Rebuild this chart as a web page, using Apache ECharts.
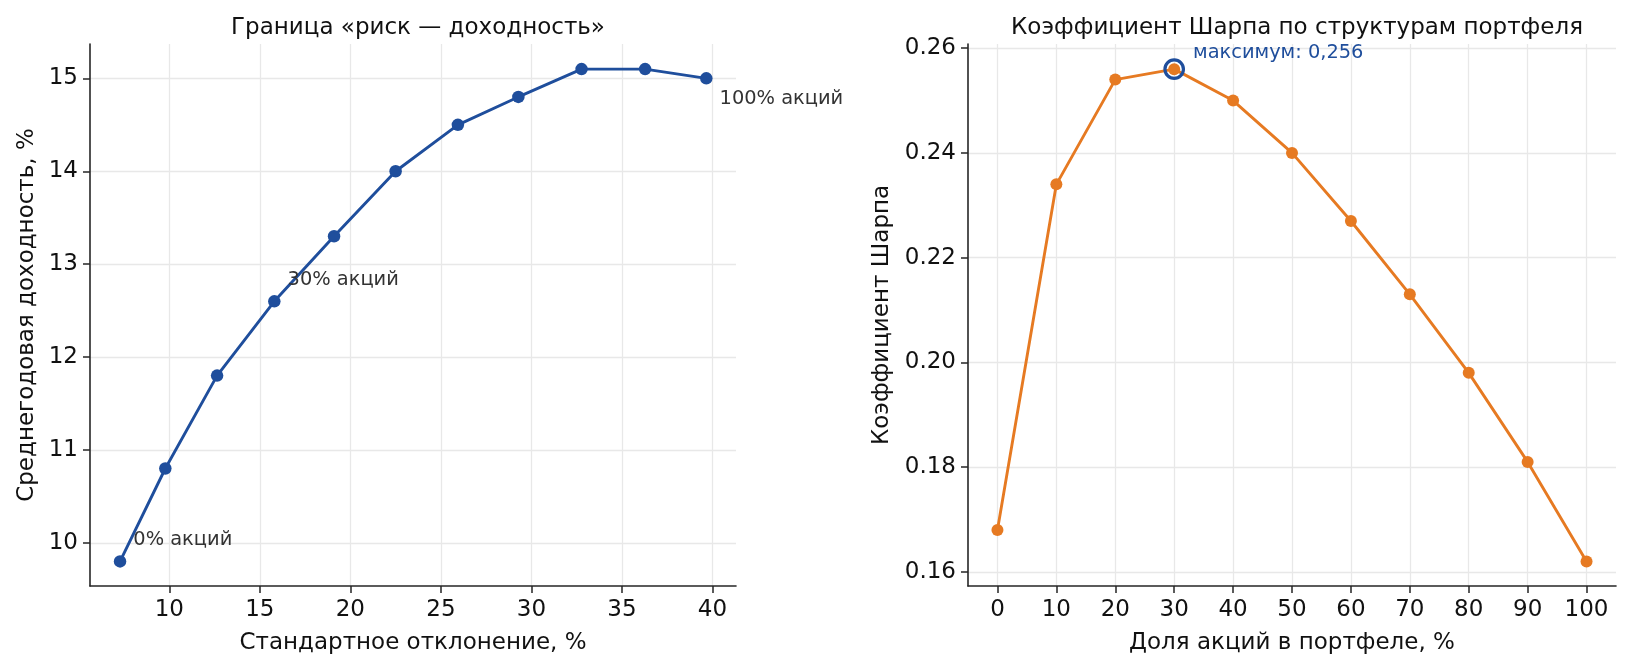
<!DOCTYPE html>
<html>
<head>
<meta charset="utf-8">
<script src="https://cdn.jsdelivr.net/npm/echarts@6/dist/echarts.min.js"></script>
<style>
    html, body { margin: 0; padding: 0; background: #fff; }
    #chart { width: 1630px; height: 670px; }
</style>
</head>
<body>
<div id="chart"></div>
<script>
// portfolios: share of equities, %
const equityShare = [0, 10, 20, 30, 40, 50, 60, 70, 80, 90, 100]
const riskStd = [7.28, 9.78, 12.64, 15.8, 19.1, 22.5, 25.94, 29.28, 32.77, 36.28, 39.66]
const meanReturn = [9.8, 10.8, 11.8, 12.6, 13.3, 14.0, 14.5, 14.8, 15.1, 15.1, 15.0]
const sharpe = [0.168, 0.234, 0.254, 0.256, 0.250, 0.240, 0.227, 0.213, 0.198, 0.181, 0.162]

// tick labels
const riskTicks = [10, 15, 20, 25, 30, 35, 40]
const returnTicks = [10, 11, 12, 13, 14, 15]
const shareTicks = [0, 10, 20, 30, 40, 50, 60, 70, 80, 90, 100]
const sharpeTicks = [0.16, 0.18, 0.20, 0.22, 0.24, 0.26]

// annotated points on the frontier
const frontierNotes = { 0: '0% акций', 3: '30% акций', 10: '100% акций' }

const BLUE = '#1f4e9c'
const ORANGE = '#e67a22'
const INK = '#262626'
const FONT = 'DejaVu Sans'

const axisCommon = {
    axisLine: { show: true, onZero: false, lineStyle: { color: INK, width: 1.6 } },
    axisTick: { show: true, inside: false, length: 7, lineStyle: { color: INK, width: 1.5 } },
    splitLine: { show: true, lineStyle: { color: '#e8e8e8', width: 1.3 } },
    nameLocation: 'middle',
    nameTextStyle: { fontFamily: FONT, fontSize: 23, color: '#111' },
}

const xAxis = (idx, min, max, ticks, name) => ({
    ...axisCommon,
    type: 'value',
    gridIndex: idx,
    min, max,
    name,
    nameGap: 46,
    axisTick: { ...axisCommon.axisTick, customValues: ticks },
    axisLabel: { customValues: ticks, margin: 13, fontFamily: FONT, fontSize: 23, color: '#111' },
})
const yAxis = (idx, min, max, ticks, name, gap, fmt) => ({
    ...axisCommon,
    type: 'value',
    gridIndex: idx,
    min, max,
    name,
    nameGap: gap,
    axisTick: { ...axisCommon.axisTick, customValues: ticks },
    axisLabel: { customValues: ticks, margin: 12, fontFamily: FONT, fontSize: 23, color: '#111', formatter: fmt },
})

const best = sharpe.indexOf(Math.max(...sharpe))

const frontierData = riskStd.map((x, i) => {
    const item = { value: [x, meanReturn[i]] }
    if (frontierNotes[i] !== undefined) {
        item.label = {
            show: true,
            formatter: frontierNotes[i],
            position: 'right',
            distance: 7,
            offset: [0, i === riskStd.length - 1 ? 21 : -21],
        }
    }
    return item
})

const chart = echarts.init(document.getElementById('chart'), null, { renderer: 'canvas' })
chart.setOption({
    animation: false,
    backgroundColor: '#fff',
    title: [
        {
            text: 'Граница «риск — доходность»',
            left: 413, top: 12, textAlign: 'center',
            textStyle: { fontFamily: FONT, fontSize: 23, fontWeight: 'normal', color: '#111' },
        },
        {
            text: 'Коэффициент Шарпа по структурам портфеля',
            left: 1292, top: 12, textAlign: 'center',
            textStyle: { fontFamily: FONT, fontSize: 23, fontWeight: 'normal', color: '#111' },
        },
    ],
    grid: [
        { left: 90, right: 894, top: 44, bottom: 84 },
        { left: 968, right: 14, top: 44, bottom: 84 },
    ],
    xAxis: [
        xAxis(0, 5.62, 41.3, riskTicks, 'Стандартное отклонение, %'),
        xAxis(1, -5, 105, shareTicks, 'Доля акций в портфеле, %'),
    ],
    yAxis: [
        yAxis(0, 9.535, 15.37, returnTicks, 'Среднегодовая доходность, %', 51, v => String(v)),
        yAxis(1, 0.1573, 0.2608, sharpeTicks, 'Коэффициент Шарпа', 74, v => v.toFixed(2)),
    ],
    series: [
        {
            type: 'line',
            xAxisIndex: 0, yAxisIndex: 0,
            data: frontierData,
            color: BLUE,
            lineStyle: { width: 2.9, color: BLUE },
            symbol: 'circle', symbolSize: 12.5, showSymbol: true,
            itemStyle: { color: BLUE },
            label: { fontFamily: FONT, fontSize: 19.4, color: '#333' },
            emphasis: { disabled: true },
        },
        {
            type: 'line',
            xAxisIndex: 1, yAxisIndex: 1,
            data: equityShare.map((s, i) => [s, sharpe[i]]),
            color: ORANGE,
            lineStyle: { width: 2.9, color: ORANGE },
            symbol: 'circle', symbolSize: 12, showSymbol: true,
            itemStyle: { color: ORANGE },
            emphasis: { disabled: true },
        },
        {
            type: 'scatter',
            xAxisIndex: 1, yAxisIndex: 1,
            data: [[equityShare[best], sharpe[best]]],
            symbol: 'circle', symbolSize: 18.5,
            itemStyle: { color: 'rgba(0,0,0,0)', borderColor: BLUE, borderWidth: 3.2, opacity: 1 },
            label: {
                show: true,
                formatter: 'максимум: ' + sharpe[best].toFixed(3).replace('.', ','),
                position: 'right',
                distance: 8,
                offset: [0, -16],
                fontFamily: FONT, fontSize: 19.4, color: BLUE,
            },
            z: 5,
            emphasis: { disabled: true },
        },
    ],
})
</script>
</body>
</html>
